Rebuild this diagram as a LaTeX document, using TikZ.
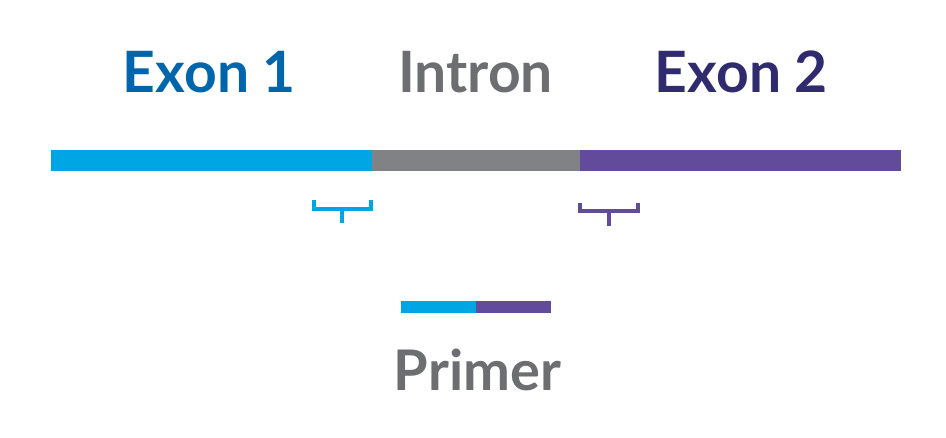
\documentclass[tikz,border=0pt]{standalone}
\usepackage{tikz}
\usetikzlibrary{positioning}
\usepackage{fontspec}
\setmainfont{Lato}
\usepackage{xcolor}
\definecolor{exononeblue}{HTML}{0066AB}
\definecolor{exontwopurple}{HTML}{302A6E}
\definecolor{introngrey}{HTML}{6D6E71}
\definecolor{barblue}{HTML}{00A5E3}
\definecolor{bargrey}{HTML}{808285}
\definecolor{barpurple}{HTML}{624B9A}

\begin{document}
\begin{tikzpicture}[x=1pt, y=-1pt, every node/.style={font=\bfseries\fontsize{57}{60}\selectfont, inner sep=0pt, anchor=base},
		bracket/.style={line width=4pt}]
		\useasboundingbox (0,0) rectangle (946,437);
		% titles
		\node[exononeblue] (exon1) at (209.5,92) {Exon 1};
		\node[introngrey] (intron) at (475.5,92) {Intron};
		\node[exontwopurple] (exon2) at (741.5,92) {Exon 2};
		
		% gene bar
		\fill[barblue] (51,150) rectangle (372,171);
		\fill[bargrey] (372,150) rectangle (580,171);
		\fill[barpurple] (580,150) rectangle (901,171);
		
		% brackets
		\draw[bracket, barblue] (314,200) -- (314,209) -- (371,209) -- (371,200);
		\draw[bracket, barblue] (342,209) -- (342,223);
		\draw[bracket, barpurple] (580,203) -- (580,211) -- (638,211) -- (638,203);
		\draw[bracket, barpurple] (609,211) -- (609,226);
		
		% primer
		\fill[barblue] (401,301) rectangle (476,313);
		\fill[barpurple] (476,301) rectangle (551,313);
		\node[introngrey, font=\bfseries\fontsize{56}{60}\selectfont] (primer) at (477.5,390) {Primer};
	\end{tikzpicture}
\end{document}
